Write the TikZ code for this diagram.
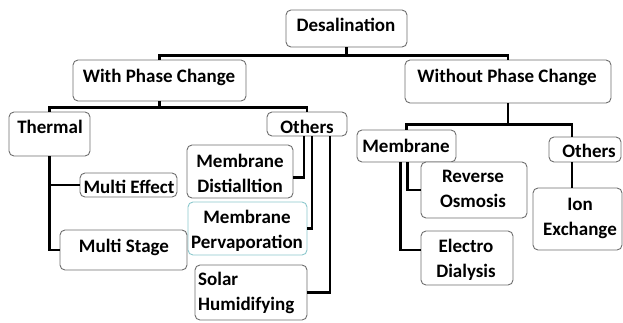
\documentclass[tikz,border=0pt]{standalone}
\usepackage{fontspec}
\setmainfont{Carlito}
\usetikzlibrary{fit,calc}
\definecolor{bordergray}{RGB}{110,110,110}
\definecolor{tealborder}{RGB}{140,200,205}
\begin{document}
\begin{tikzpicture}[x=1pt,y=-1pt,
  box/.style={draw=bordergray, line width=0.9pt, rounded corners=5pt, fill=white, inner sep=0pt},
  lbl/.style={font=\fontsize{19}{25}\selectfont\bfseries, inner sep=0pt, anchor=base, align=center},
  conn/.style={draw=black, line width=2.6pt}]
\useasboundingbox (0,0) rectangle (623,322);

% boxes
\node[box, fit={(286,10) (407,47)}] (desal) {};
\node[box, fit={(73,60) (246,101)}] (wpc) {};
\node[box, fit={(405,60) (611,103)}] (wopc) {};
\node[box, fit={(9,112) (90,156)}] (thermal) {};
\node[box, fit={(267,112) (347,136)}] (othL) {};
\node[box, fit={(187,145) (293,198)}] (md) {};
\node[box, draw=tealborder, fit={(188,202) (307,255)}] (mp) {};
\node[box, fit={(195,265) (307,320)}] (sh) {};
\node[box, fit={(80,173) (177,197)}] (me) {};
\node[box, fit={(60,230) (187,270)}] (ms) {};
\node[box, fit={(357,130) (456,162)}] (memR) {};
\node[box, fit={(549,137) (621,162)}] (othR) {};
\node[box, fit={(533,188) (622,250)}] (ie) {};
\node[box, fit={(421,162) (527,218)}] (ro) {};
\node[box, fit={(421,231) (513,285)}] (ed) {};

% texts (anchor base = baseline of last line)
\node[lbl] (tdesal) at (346,31) {Desalination};
\node[lbl] (twpc) at (159,82) {With Phase Change};
\node[lbl] (twopc) at (507,82) {Without Phase Change};
\node[lbl] (tthermal) at (50,133) {Thermal};
\node[lbl] (tothL) at (307,133) {Others};
\node[lbl] (tmd) at (240,192) {Membrane\\Distialltion};
\node[lbl] (tmp) at (247,248) {Membrane\\Pervaporation};
\node[lbl, align=left, anchor=base west] (tsh) at (198,310) {Solar\\Humidifying};
\node[lbl] (tme) at (129,193) {Multi Effect};
\node[lbl] (tms) at (124,252) {Multi Stage};
\node[lbl] (tmemR) at (406,152) {Membrane};
\node[lbl] (tothR) at (589,157) {Others};
\node[lbl] (tie) at (580,235) {Ion\\Exchange};
\node[lbl] (tro) at (473,207) {Reverse\\Osmosis};
\node[lbl] (ted) at (466,277) {Electro\\Dialysis};

% connectors
\draw[conn] (desal.south) -- ++(0,8) -| (wpc.north);
\draw[conn] (desal.south) -- ++(0,8) -| (wopc.north);
\draw[conn] (wpc.south) -- ++(0,6) -| (thermal.north);
\draw[conn] (wpc.south) -- ++(0,6) -| (othL.north);
\draw[conn] (thermal.south) |- (me.west);
\draw[conn] (thermal.south) |- (ms.west);
\draw[conn] ([xshift=-3pt]othL.south) |- ([yshift=-6pt]md.east);
\draw[conn] ([xshift=5pt]othL.south) |- (mp.east);
\draw[conn] ([xshift=23pt]othL.south) |- (sh.east);
\draw[conn] (wopc.south) -- ++(0,21) -| (memR.north);
\draw[conn] (wopc.south) -- ++(0,21) -| ([xshift=-13pt]othR.north);
\draw[conn] ([xshift=-13pt]othR.south) -- ([xshift=-13pt]othR.south |- ie.north);
\draw[conn] ([xshift=1pt]memR.south) |- (ro.west);
\draw[conn] ([xshift=-6pt]memR.south) |- ([yshift=8pt]ed.west);
\end{tikzpicture}
\end{document}
